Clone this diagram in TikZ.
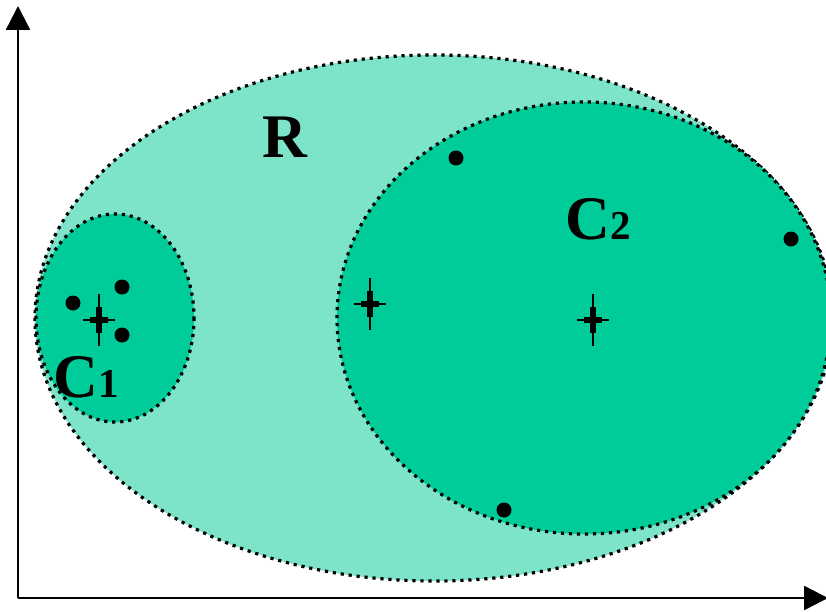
\documentclass[tikz,border=0pt]{standalone}
\usepackage{fontspec}
\setmainfont{Liberation Serif}
\usetikzlibrary{arrows.meta}

\definecolor{clustfill}{RGB}{0,204,153}
\definecolor{regionfill}{RGB}{125,228,202}

\tikzset{
  border/.style={line width=3.2pt, dash pattern=on 3.2pt off 4.8pt},
  dot/.style={circle, fill=black, inner sep=0pt, minimum size=15pt},
  axis/.style={line width=2.4pt, -{Triangle[length=24pt,width=24pt]}},
  bigtxt/.style={anchor=base, inner sep=0pt, font=\bfseries\fontsize{62}{62}\selectfont},
  centroid/.pic={
    \draw[line width=2.2pt] (0,-26) -- (0,26);
    \draw[line width=2.2pt] (-16,0) -- (16,0);
    \draw[line width=6pt] (0,-13) -- (0,13);
    \draw[line width=6pt] (-9,0) -- (9,0);
  }
}
\newcommand{\clab}[1]{C{\fontsize{41}{41}\selectfont #1}}

\begin{document}
\begin{tikzpicture}[x=1pt, y=-1pt]
  \useasboundingbox (0,0) rectangle (826,612);
  % axes
  \coordinate (origin) at (18,598);
  \coordinate (ytop) at (18,6);
  \coordinate (xend) at (828,598);
  \draw[axis] (origin) -- (ytop);
  \draw[axis] (origin) -- (xend);
  % region and clusters
  \fill[regionfill] (434,318) ellipse (399 and 263);
  \draw[border] (434,318) ellipse (399 and 263);
  \filldraw[fill=clustfill, border] (115,318) ellipse (79 and 104);
  \filldraw[fill=clustfill, border] (584,318) ellipse (247 and 216);
  % labels
  \node[bigtxt] (lblR) at (285,158) {R};
  \node[bigtxt] (lblC1) at (86,397) {\clab{1}};
  \node[bigtxt] (lblC2) at (598,240) {\clab{2}};
  % points of C1
  \node[dot] (p1) at (73,303) {};
  \node[dot] (p2) at (122,287) {};
  \node[dot] (p3) at (122,335) {};
  % points of C2
  \node[dot] (p4) at (456,158) {};
  \node[dot] (p5) at (791,239) {};
  \node[dot] (p6) at (504,510) {};
  % centres
  \pic (m1) at (99,320) {centroid};
  \pic (m2) at (370,304) {centroid};
  \pic (m3) at (593,320) {centroid};
\end{tikzpicture}
\end{document}
